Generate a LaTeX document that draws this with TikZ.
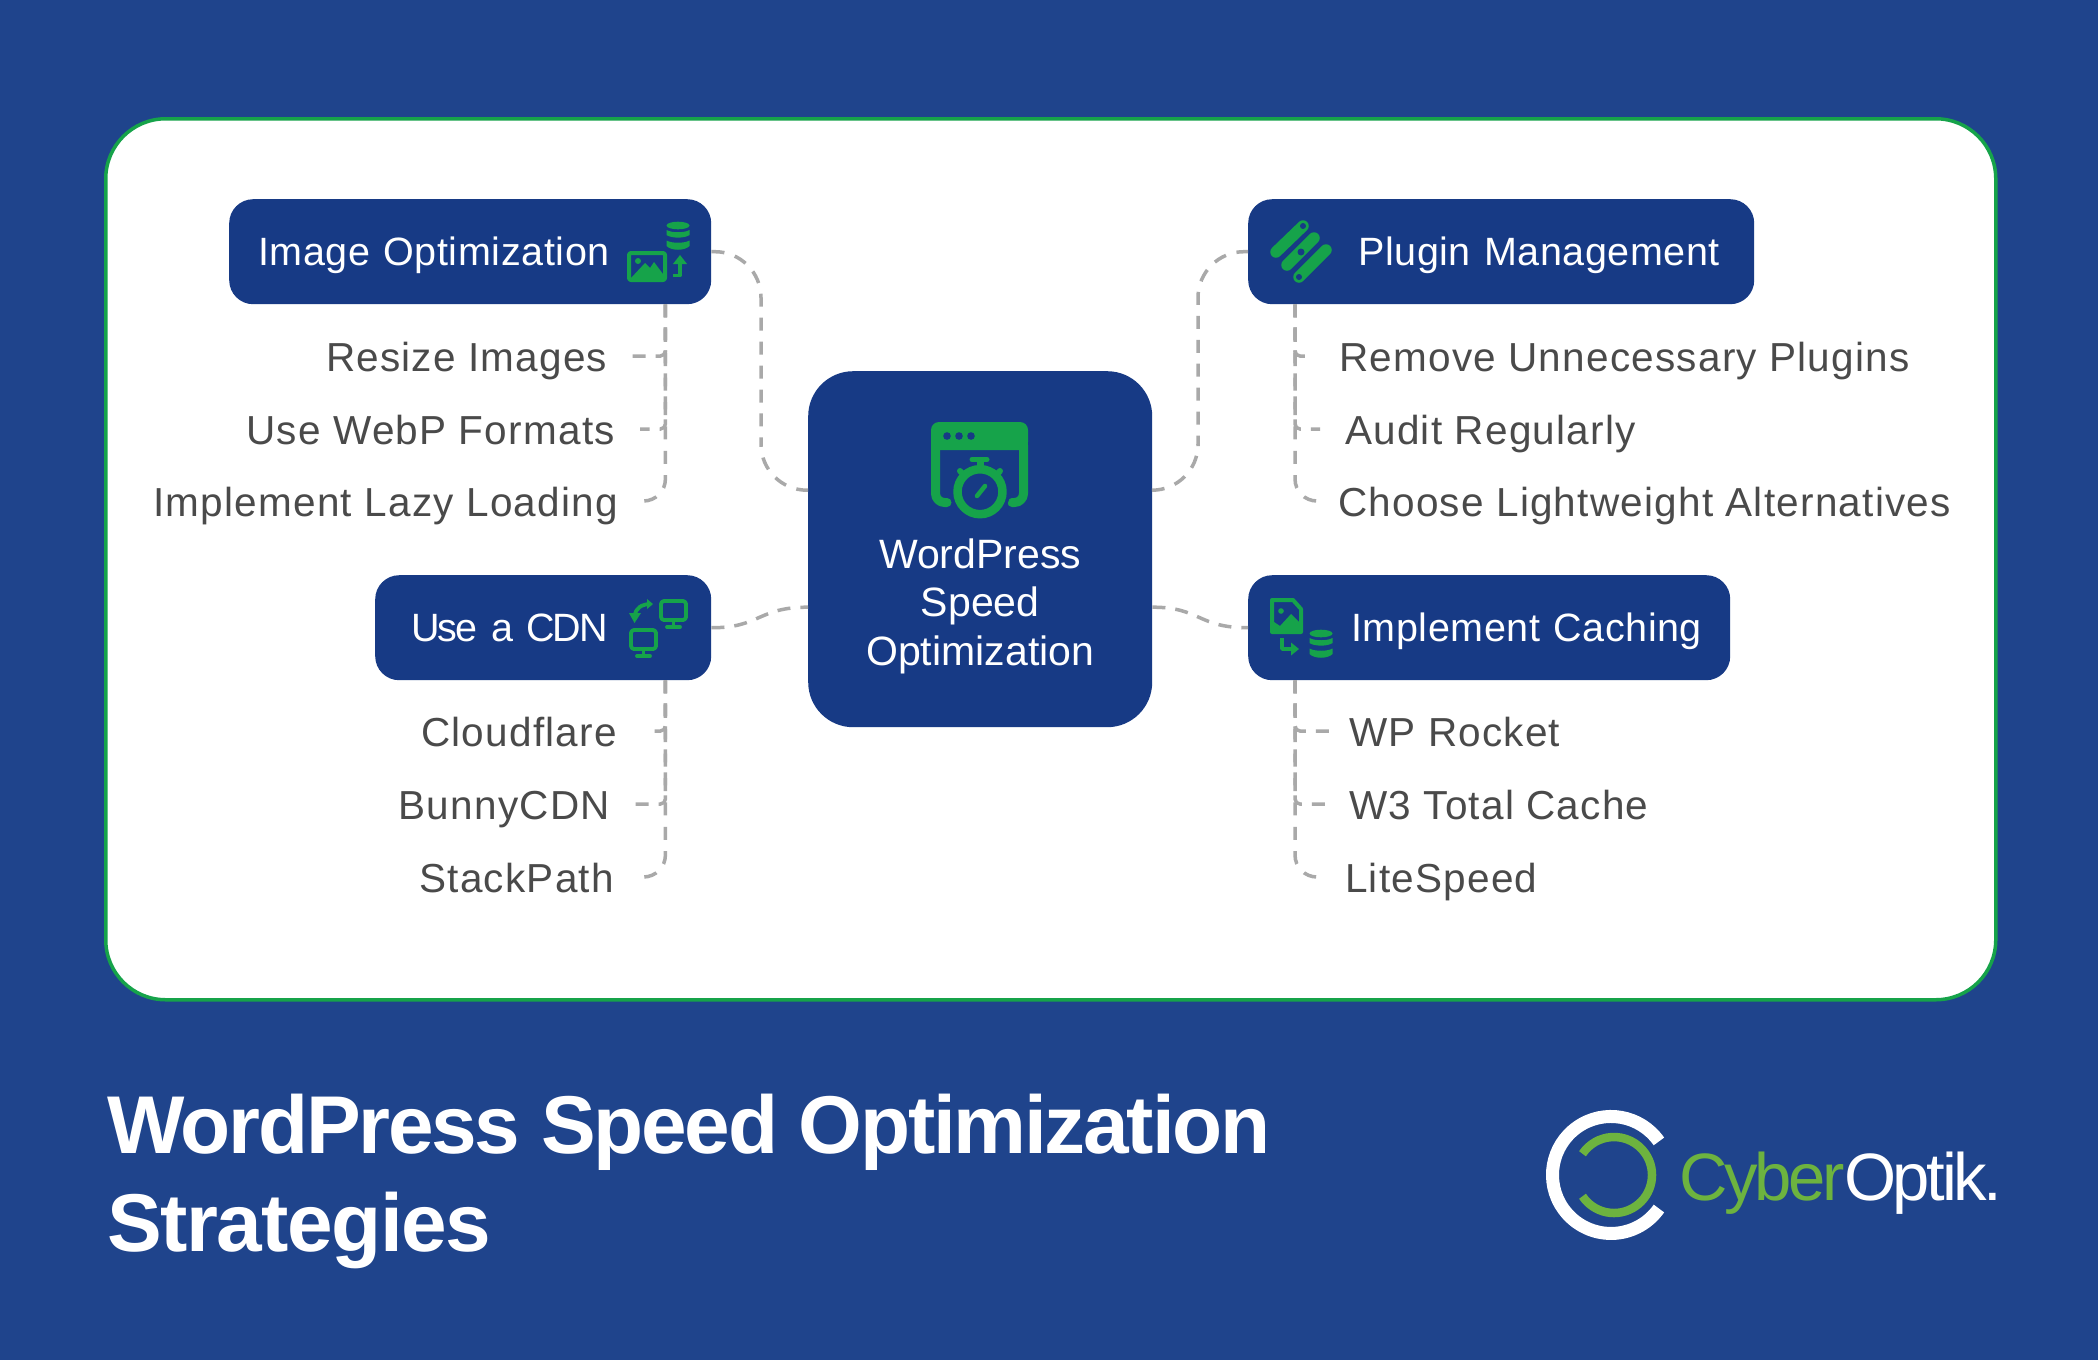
\documentclass[tikz,border=0pt]{standalone}
\usepackage{fontspec}
\setmainfont{Liberation Sans}
\definecolor{pagebg}{HTML}{1F448C}
\definecolor{boxnavy}{HTML}{173A85}
\definecolor{iconGreen}{HTML}{16A34A}
\definecolor{linkgray}{HTML}{A9A9A9}
\definecolor{labelgray}{HTML}{4A4A4A}
\definecolor{logoGreen}{HTML}{6DB33F}
\tikzset{
  catbox/.style={fill=boxnavy,text=white,rounded corners=24pt,inner sep=0pt,minimum height=105pt,
    anchor=north west,align=left,text height=35pt,text depth=8pt,font=\fontsize{39.5}{46}\selectfont\addfontfeature{LetterSpace=1.5}},
  hubbox/.style={fill=boxnavy,text=white,rounded corners=45pt,inner sep=0pt,anchor=north west,
    text width=344pt,align=center,font=\fontsize{41}{48.5}\selectfont},
  leaf/.style={text=labelgray,inner sep=0pt,text height=38pt,text depth=8pt,font=\fontsize{40.5}{46}\selectfont\addfontfeature{LetterSpace=3}},
  lleaf/.style={leaf,anchor=east},
  rleaf/.style={leaf,anchor=west},
  link/.style={draw=linkgray,line width=3.5pt,dash pattern=on 13pt off 10pt},
  mainlink/.style={link,dash pattern=on 13pt off 10.95pt},
  lastlink/.style={link,dash pattern=on 13pt off 11.4pt},
  ink/.style={fill=iconGreen,draw=none},
  stroke/.style={draw=iconGreen,line width=#1,line cap=round,line join=round},
  stroke/.default=4pt,
  hole/.style={fill=boxnavy,draw=none},
}
\newcommand{\dbicon}[2]{%
  \begin{scope}[shift={(#1,#2)}]
    \fill[ink] (11.5,3.5) ellipse (11.5pt and 3.8pt);
    \fill[ink] (0,8) .. controls (5,11) and (18,11) .. (23,8) -- (23,13) .. controls (18,16.5) and (5,16.5) .. (0,13) -- cycle;
    \fill[ink] (0,18.5) .. controls (5,21.5) and (18,21.5) .. (23,18.5) -- (23,24) .. controls (18,29) and (5,29) .. (0,24) -- cycle;
  \end{scope}}
\begin{document}
\begin{tikzpicture}[x=1pt,y=-1pt]
\useasboundingbox (0,0) rectangle (2098,1360);
\fill[pagebg] (0,0) rectangle (2098,1360);
\node[draw=iconGreen,line width=3.5pt,fill=white,rounded corners=60pt,inner sep=0pt,anchor=north west,
  minimum width=1890pt,minimum height=881pt] (card) at (104,117) {};

% category boxes and hub
\node[catbox,text width=482pt] (imgopt) at (229,199) {\hspace*{29pt}Image Optimization};
\node[catbox,text width=506pt] (plugin) at (1248,199) {\hspace*{110pt}Plugin Management};
\node[catbox,text width=336pt] (cdn) at (375,575) {\hspace*{36pt}\addfontfeature{LetterSpace=-4.5}Use a CDN};
\node[catbox,text width=482pt] (cache) at (1248,575) {\hspace*{103pt}Implement Caching};
\node[hubbox] (hub) at (808,371) {\rule{0pt}{197pt}WordPress\\Speed\\Optimization\rule[-62pt]{0pt}{62pt}};

% leaves
\node[lleaf] (resize) at (607.5,356) {Resize Images};
\node[lleaf] (webp) at (615,429) {Use WebP Formats};
\node[lleaf] (lazy) at (618,501) {Implement Lazy Loading};
\node[lleaf] (cloudflare) at (617,731) {Cloudflare};
\node[lleaf] (bunny) at (610,804) {BunnyCDN};
\node[lleaf] (stackpath) at (614,877) {StackPath};
\node[rleaf] (remove) at (1339,356) {Remove Unnecessary Plugins};
\node[rleaf] (audit) at (1345,429) {Audit Regularly};
\node[rleaf] (choose) at (1338,501) {Choose Lightweight Alternatives};
\node[rleaf] (rocket) at (1349,731) {WP Rocket};
\node[rleaf] (wthree) at (1349,804) {W3 Total Cache};
\node[rleaf] (litespeed) at (1345,877) {LiteSpeed};

% trunks
\coordinate (imgtrunk) at ([xshift=-46pt]imgopt.south east);
\coordinate (cdntrunk) at ([xshift=-46pt]cdn.south east);
\coordinate (plugtrunk) at ([xshift=47pt]plugin.south west);
\coordinate (cachetrunk) at ([xshift=47pt]cache.south west);

% main connectors
\draw[mainlink,rounded corners=46pt] (imgopt.east) -| (761,400) |- ([yshift=59pt]hub.west);
\draw[mainlink,rounded corners=46pt] ([yshift=59pt]hub.east) -| (1198,400) |- (plugin.west);
\draw[link] (cdn.east) .. controls (760,628) and (758,607) .. ([yshift=-58pt]hub.west);
\draw[link] ([yshift=-58pt]hub.east) .. controls (1200,607) and (1198,628) .. (cache.west);

% leaf connectors
\draw[link,rounded corners=5pt] (imgtrunk) -- (imgtrunk |- resize) -- ([xshift=21.5pt]resize.east);
\draw[link,rounded corners=5pt] (imgtrunk) -- (imgtrunk |- webp) -- ([xshift=25pt]webp.east);
\draw[lastlink,rounded corners=22pt] (imgtrunk) -- (imgtrunk |- lazy) -- ([xshift=27pt]lazy.east);
\draw[link,rounded corners=5pt] (cdntrunk) -- (cdntrunk |- cloudflare) -- ([xshift=36pt]cloudflare.east);
\draw[link,rounded corners=5pt] (cdntrunk) -- (cdntrunk |- bunny) -- ([xshift=19pt]bunny.east);
\draw[lastlink,rounded corners=22pt] (cdntrunk) -- (cdntrunk |- stackpath) -- ([xshift=31pt]stackpath.east);
\draw[link,rounded corners=5pt] (plugtrunk) -- (plugtrunk |- remove) -- ([xshift=-32pt]remove.west);
\draw[link,rounded corners=5pt] (plugtrunk) -- (plugtrunk |- audit) -- ([xshift=-25pt]audit.west);
\draw[lastlink,rounded corners=22pt] (plugtrunk) -- (plugtrunk |- choose) -- ([xshift=-23pt]choose.west);
\draw[link,rounded corners=5pt] (cachetrunk) -- (cachetrunk |- rocket) -- ([xshift=-17pt]rocket.west);
\draw[link,rounded corners=5pt] (cachetrunk) -- (cachetrunk |- wthree) -- ([xshift=-19pt]wthree.west);
\draw[lastlink,rounded corners=22pt] (cachetrunk) -- (cachetrunk |- litespeed) -- ([xshift=-30pt]litespeed.west);

% hub icon
\fill[ink,rounded corners=8pt] (931,450) -- (931,422) -- (1028,422) -- (1028,450) -- cycle;
\fill[ink] (931,440) rectangle (1028,450);
\draw[stroke=9pt,rounded corners=9pt] (935.5,445) -- (935.5,502.5) -- (947,502.5);
\draw[stroke=9pt,rounded corners=9pt] (1023.5,445) -- (1023.5,502.5) -- (1012,502.5);
\fill[hole] (947,436) circle (3.8pt) (959,436) circle (3.8pt) (971,436) circle (3.8pt);
\fill[boxnavy] (980,491.7) circle (30pt);
\draw[stroke=8.5pt] (980,491.7) circle (22.5pt);
\draw[stroke=5pt] (972,459.5) -- (987,459.5);
\fill[ink] (976.5,460) rectangle (983.5,470);
\draw[stroke=6pt] (960,471) -- (964,475);
\draw[stroke=6pt] (1000,471) -- (996,475);
\draw[stroke=4.5pt] (977,496) -- (985,486);

% image optimization icon
\dbicon{666.5}{222}
\draw[stroke=4pt,rounded corners=2pt] (629,253) rectangle (665,280);
\fill[ink] (631,278) -- (645,263) -- (650,268) -- (654,262) -- (663,274) -- (663,280) -- (631,280) -- cycle;
\fill[ink] (638,261) circle (3pt);
\draw[stroke=3.8pt,line cap=butt] (673,275.5) -- (680,275.5) -- (680,261);
\fill[ink] (680,255) -- (687,264) -- (673,264) -- cycle;

% plugin icon
\draw[stroke=11.5pt] (1276,252) -- (1303,226);
\draw[stroke=11.5pt] (1287,265) -- (1314,238);
\draw[stroke=11.5pt] (1299,277) -- (1326,250);
\fill[hole] (1303,226) circle (3pt) (1301,252) circle (3.5pt) (1299,277) circle (3pt);

% cdn icon
\draw[stroke=3.8pt,rounded corners=3pt] (661,601) rectangle (686,620);
\draw[stroke=3.8pt] (673.5,620) -- (673.5,627);
\draw[stroke=3.8pt] (667,627) -- (680,627);
\draw[stroke=3.8pt,rounded corners=3pt] (631,630) rectangle (656,649);
\draw[stroke=3.8pt] (643.5,649) -- (643.5,656);
\draw[stroke=3.8pt] (637,656) -- (650,656);
\draw[stroke=3.8pt,line cap=butt] (651,604) .. controls (642,604) and (635,608) .. (635,616);
\fill[ink] (634.5,623) -- (629,613) -- (641,613) -- cycle;
\fill[ink] (653,604) -- (647,599) -- (647,609) -- cycle;

% caching icon
\draw[stroke=4pt] (1272,600) -- (1293,600) -- (1301,609) -- (1301,632) -- (1272,632) -- cycle;
\fill[ink] (1274,630) -- (1274,622) -- (1280,626) -- (1291,614) -- (1299,622) -- (1299,630) -- cycle;
\fill[ink] (1281,611) circle (2.8pt);
\draw[stroke=3.8pt,line cap=butt] (1282,638) -- (1282,649) -- (1293,649);
\fill[ink] (1299,649) -- (1291,642.5) -- (1291,655.5) -- cycle;
\dbicon{1309.5}{630}

% footer
\node[text=white,inner sep=0pt,anchor=north west,align=left,font=\fontsize{82}{98}\selectfont\bfseries] (title) at (107,1073)
  {\rule{0pt}{80pt}{\addfontfeature{LetterSpace=-2.75}WordPress Speed Optimization}\\{\addfontfeature{LetterSpace=-1.7}Strategies}};
\draw[white,line width=13pt] (1658.9,1141.4) arc[start angle=35,end angle=325,radius=58.5pt];
\draw[logoGreen,line width=8.5pt] (1582.5,1196.25) arc[start angle=-146,end angle=146,radius=38pt];
\node[inner sep=0pt,anchor=base west,font=\fontsize{67}{67}\selectfont\addfontfeature{LetterSpace=-5.1}] (logotext) at (1679,1200)
  {\textcolor{logoGreen}{Cyber}\textcolor{white}{Optik.}};
\end{tikzpicture}
\end{document}
